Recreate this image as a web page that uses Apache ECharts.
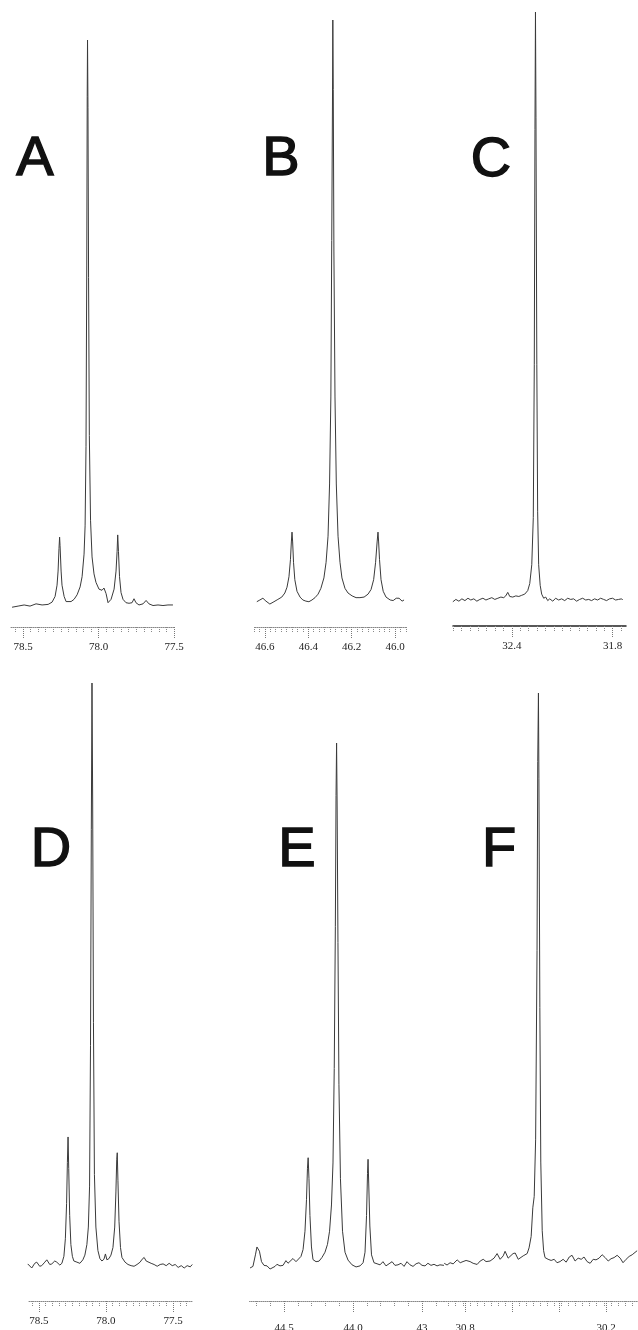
<!DOCTYPE html>
<html>
<head>
<meta charset="utf-8">
<script src="https://cdn.jsdelivr.net/npm/echarts@6/dist/echarts.min.js"></script>
<style>
html,body{margin:0;padding:0;background:#fff;}
#chart{width:638px;height:1330px;}
</style>
</head>
<body>
<div id="chart"></div>
<script>
// ---------- DATA (chemical shift ppm, relative intensity) ----------
var panelLetters = ['A','B','C','D','E','F'];

var ppmA = [78.573,78.533,78.493,78.454,78.414,78.374,78.334,78.308,78.288,78.275,78.268,78.262,78.258,78.255,78.248,78.242,78.228,78.215,78.202,78.182,78.162,78.142,78.122,78.109,78.096,78.089,78.083,78.078,78.075,78.073,78.070,78.066,78.061,78.053,78.043,78.030,78.017,77.997,77.977,77.964,77.950,77.937,77.917,77.897,77.884,77.877,77.873,77.868,77.861,77.851,77.838,77.818,77.798,77.778,77.765,77.752,77.732,77.705,77.685,77.666,77.639,77.606,77.573,77.540,77.507];
var intA = [-0.4,-0.2,0,-0.2,0.2,0,0.1,0.5,1.5,3.5,6,10,12,10.5,6,3.5,1.5,0.6,0.3,0.6,1,1.8,3.2,5,9,14,28,60,90,100,88,58,30,15,8.5,5.5,4,2.8,2.6,3,2,0.4,1,2.8,6,9.5,12.4,9.5,5,2.2,1,0.4,0.3,0.4,1.1,0.4,0,0.2,0.8,0.2,-0.1,0,-0.1,0,0];

var ppmB = [46.637,46.623,46.609,46.595,46.577,46.558,46.540,46.522,46.508,46.498,46.489,46.482,46.478,46.475,46.472,46.468,46.462,46.452,46.438,46.425,46.411,46.397,46.383,46.369,46.355,46.342,46.328,46.318,46.309,46.302,46.296,46.292,46.288,46.287,46.285,46.282,46.277,46.271,46.263,46.254,46.245,46.231,46.217,46.198,46.180,46.162,46.143,46.125,46.111,46.099,46.090,46.083,46.079,46.076,46.072,46.065,46.055,46.042,46.023,46.009,45.995,45.982,45.968,45.959];
var intB = [-0.3,0,0.3,-0.2,-0.7,-0.3,0.1,0.5,1.2,2.2,4,7,10,11.7,10,6.5,3.5,1.5,0.5,0,-0.2,-0.3,0,0.4,1,2,3.8,6.5,11,20,35,62,90,100,88,60,35,20,11,6.5,3.8,2,1.2,0.7,0.4,0.4,0.5,1,1.8,3.5,6.5,10,11.7,10,7,3.5,1.5,0.5,0,-0.1,0.3,0.3,-0.2,0];

var ppmC = [32.751,32.733,32.715,32.697,32.679,32.661,32.644,32.626,32.608,32.590,32.572,32.554,32.537,32.519,32.501,32.483,32.465,32.448,32.436,32.424,32.412,32.394,32.376,32.358,32.341,32.323,32.305,32.293,32.281,32.272,32.266,32.262,32.259,32.256,32.251,32.246,32.240,32.231,32.222,32.210,32.198,32.186,32.174,32.156,32.139,32.121,32.103,32.085,32.067,32.049,32.032,32.014,31.996,31.978,31.960,31.942,31.925,31.907,31.889,31.871,31.853,31.836,31.818,31.800,31.782,31.764,31.746,31.740];
var intC = [-0.3,0.1,-0.2,0.2,-0.1,0.3,0,0.2,-0.2,0.1,0.3,0,0.2,0.4,0.1,0.3,0.5,0.4,0.7,1.3,0.6,0.5,0.7,0.6,0.8,1,1.6,2.8,6,14,40,80,100,82,40,15,6,2.5,1,0.3,0.5,-0.1,0.2,-0.2,0.3,0,0.2,-0.1,0.3,0.1,0.2,-0.2,0.1,0.3,0,0.1,-0.1,0.2,0,0.3,0.1,-0.1,0.2,0.3,0,0.1,0.2,0];

var ppmD = [78.582,78.552,78.530,78.515,78.493,78.478,78.455,78.440,78.418,78.403,78.381,78.366,78.343,78.328,78.313,78.302,78.293,78.287,78.282,78.277,78.270,78.261,78.250,78.239,78.216,78.194,78.172,78.157,78.142,78.131,78.122,78.115,78.109,78.104,78.099,78.093,78.086,78.075,78.060,78.045,78.030,78.015,78.004,77.993,77.978,77.963,77.948,77.935,77.926,77.920,77.916,77.911,77.903,77.892,77.881,77.858,77.836,77.813,77.791,77.769,77.746,77.731,77.716,77.701,77.687,77.664,77.642,77.619,77.597,77.575,77.552,77.530,77.507,77.485,77.463,77.440,77.418,77.396,77.373,77.358];
var intD = [0.7,0,0.8,1,0.3,0.4,1,1.4,0.6,0.7,1.2,1,0.5,0.8,2,5,11,18,22.4,17,9,4,2,1.2,1,0.8,1.4,2.2,4,7,14,38,75,100,80,42,16,7,3,1.6,1.2,1.5,2.4,1.4,1.6,2.2,3.5,7,13,18.5,19.7,15,8,3.5,1.8,1,0.6,0.4,0.3,0.6,1,1.5,1.8,1.2,1.4,0.8,0.6,0.3,0.6,0.7,0.4,0.8,0.4,0.6,0.1,0.4,0,0.4,0.2,0.6];

var ppmE = [44.746,44.725,44.707,44.696,44.689,44.678,44.663,44.645,44.623,44.601,44.587,44.565,44.551,44.529,44.507,44.486,44.471,44.457,44.435,44.413,44.399,44.377,44.362,44.348,44.337,44.330,44.325,44.319,44.312,44.301,44.290,44.268,44.246,44.225,44.203,44.185,44.170,44.156,44.145,44.136,44.128,44.123,44.119,44.115,44.109,44.102,44.091,44.076,44.058,44.036,44.007,43.978,43.949,43.927,43.913,43.902,43.895,43.891,43.886,43.878,43.866,43.848,43.826,43.804,43.783,43.761,43.739,43.717,43.696,43.674,43.652,43.630,43.609,43.587,43.565,43.543,43.522,43.500,43.478,43.457,43.435,43.413,43.391,43.370,43.341];
var intE = [0,0.3,2.5,4,4.3,3.2,1.2,0.5,0.4,-0.2,-0.4,0.3,0.7,0.4,0.5,1.4,0.9,1.1,1.8,1.2,1.4,2.2,3.5,7,13,19,21,17,10,4,1.6,1.2,1.3,2,3,4.5,7,12,20,38,65,90,100,88,62,35,17,7,3,1.5,0.6,0.2,0.4,1,3,10,18,20.7,16,8,2.5,1,0.8,0.6,1.2,0.4,0.8,1.2,0.5,0.6,0.9,0.3,1.2,0.6,0.3,0.8,1,0.5,0.4,0.9,0.5,0.7,0.4,0.6,0.5];

var ppmF = [30.889,30.877,30.864,30.851,30.834,30.821,30.809,30.796,30.779,30.766,30.749,30.736,30.723,30.711,30.694,30.677,30.664,30.651,30.638,30.630,30.617,30.609,30.596,30.587,30.574,30.566,30.553,30.545,30.536,30.528,30.519,30.512,30.506,30.500,30.494,30.491,30.488,30.486,30.482,30.478,30.472,30.466,30.460,30.447,30.434,30.421,30.409,30.396,30.383,30.370,30.357,30.345,30.332,30.319,30.306,30.294,30.281,30.268,30.255,30.243,30.230,30.217,30.204,30.191,30.179,30.166,30.153,30.140,30.128,30.115,30.102,30.089,30.077,30.068];
var intF = [0.3,0,0.4,0.2,0.9,0.4,0.6,0.8,0.6,0.3,0.1,0.7,1,0.6,0.7,1.2,2,1,1.6,2.4,1.2,1.1,2,2.1,1,0.7,1.6,1.7,2,3,5,10,12,22,55,88,100,85,45,18,6,2.5,1.3,1,0.8,1,0.4,0.6,1,0.5,1.4,1.7,0.7,1.2,1,1.4,0.6,0.3,1,0.9,1.2,1.8,1.3,0.7,1.1,1.3,1.7,1.2,0.4,1,1.5,1.8,2.2,2.5];

// tick labels
var labelsA = [78.5, 78.0, 77.5];
var labelsB = [46.6, 46.4, 46.2, 46.0];
var labelsC = [32.4, 31.8];
var labelsD = [78.5, 78.0, 77.5];
var labelsE = [44.5, 44.0, 43.5];
var labelTextE = ['44.5', '44.0', '43'];
var labelsF = [30.8, 30.2];

// ---------- LAYOUT ----------
function zip(xs, ys){ var o=[]; for (var i=0;i<xs.length;i++) o.push([xs[i], ys[i]]); return o; }
function ticks(min, max, step){ var o=[]; var n=Math.ceil(min/step-1e-9); for (var v=n*step; v<=max+1e-9; v=(++n)*step) o.push(+v.toFixed(4)); return o; }

var panels = [
  {x:ppmA, y:intA, min:77.5, max:78.58, left:11, width:163, top:40, height:587, ymin:-3.9, step:0.05, labels:labelsA, margin:15, solid:false, letter:[35,160]},
  {x:ppmB, y:intB, min:45.95, max:46.65, left:254, width:152, top:20, height:607, ymin:-4.66, step:0.025, labels:labelsB, margin:15, solid:false, letter:[281,160]},
  {x:ppmC, y:intC, min:31.72, max:32.75, left:453, width:173, top:12, height:614, ymin:-4.42, step:0.05, labels:labelsC, margin:15, solid:true, letter:[491,161]},
  {x:ppmD, y:intD, min:77.36, max:78.58, left:28, width:164, top:683, height:618, ymin:-5.64, step:0.05, labels:labelsD, margin:15, solid:false, letter:[51,851]},
  {x:ppmE, y:intE, min:43.34, max:44.75, left:249.5, width:194.6, top:743, height:558, ymin:-6.29, step:0.1, labels:labelsE, texts:labelTextE, margin:22, solid:false, letter:[297,851]},
  {x:ppmF, y:intF, min:30.06, max:30.89, left:444, width:195, top:693, height:608, ymin:-6.29, step:0.03, labels:labelsF, margin:22, solid:false, letter:[499,851], extraMajor:[30.6,30.4]}
];

var grids=[], xAxes=[], yAxes=[], series=[], graphics=[];
panels.forEach(function(p, i){
  grids.push({left:p.left, width:p.width, top:p.top, height:p.height, containLabel:false, outerBoundsMode:'none'});
  // minor tick axis with axis line
  xAxes.push({
    type:'value', gridIndex:i, min:p.min, max:p.max, inverse:true, position:'bottom',
    axisLine:{show:true, onZero:false, lineStyle:{color: p.solid ? '#222' : '#888', width: p.solid ? 1.5 : 1, type: p.solid ? 'solid' : 'dotted'}},
    axisTick:{show:true, customValues: ticks(p.min, p.max, p.step), length:5, lineStyle:{color:'#888', type:'dotted', width:1}},
    axisLabel:{show:false}, splitLine:{show:false}
  });
  var major = p.labels.concat(p.extraMajor || []);
  xAxes.push({
    type:'value', gridIndex:i, min:p.min, max:p.max, inverse:true, position:'bottom', offset:0,
    axisLine:{show:false, onZero:false},
    axisTick:{show:true, customValues: major, length:12, lineStyle:{color:'#777', type:'dotted', width:1}},
    axisLabel:{show:true, customValues: p.labels, margin:p.margin, color:'#222', fontFamily:'Liberation Serif', fontSize:11,
      formatter:function(v){ var k=-1; for (var j=0;j<p.labels.length;j++) if (Math.abs(p.labels[j]-v)<1e-6) k=j; if (p.texts && k>=0) return p.texts[k]; return (+v).toFixed(1);} },
    splitLine:{show:false}
  });
  yAxes.push({type:'value', gridIndex:i, min:p.ymin, max:100, show:false, splitLine:{show:false}});
  series.push({
    type:'line', xAxisIndex:2*i, yAxisIndex:i, data: zip(p.x, p.y), showSymbol:false, symbol:'none',
    clip:false, lineStyle:{color:'#3a3a3a', width:1}, animation:false
  });
  graphics.push({type:'text', x:p.letter[0], y:p.letter[1], style:{text:panelLetters[i], fontSize:56, fontFamily:'Liberation Sans', fill:'#111', stroke:'#111', lineWidth:1.4, align:'center', verticalAlign:'middle'}});
});

var chart = echarts.init(document.getElementById('chart'), null, {renderer:'canvas'});
chart.setOption({
  animation:false,
  backgroundColor:'#ffffff',
  grid:grids, xAxis:xAxes, yAxis:yAxes, series:series, graphic:graphics
});
</script>
</body>
</html>
